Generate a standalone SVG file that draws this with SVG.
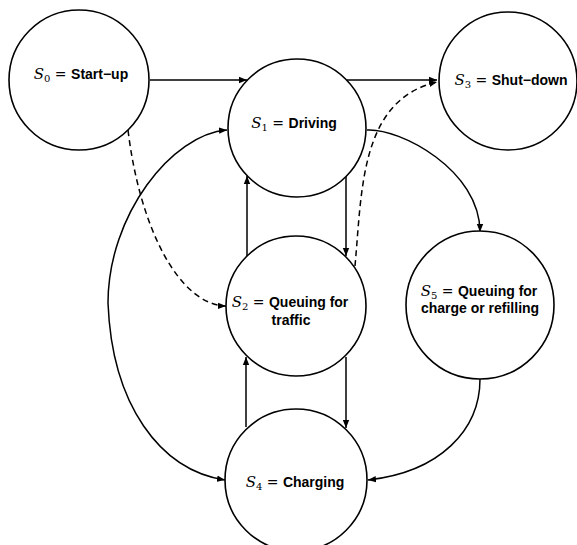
<svg xmlns="http://www.w3.org/2000/svg" width="577" height="545" viewBox="0 0 577 545">
<style>
.node{fill:#fff;stroke:#000;stroke-width:1.6}
.lbl{font-family:"Liberation Sans",Arial,sans-serif;font-weight:bold;font-size:14px;fill:#000;text-anchor:middle}
.m{font-family:"DejaVu Serif","Liberation Serif",serif;font-style:italic;font-weight:normal;font-size:15px}
.eq{font-family:"DejaVu Serif","Liberation Serif",serif;font-weight:normal}
.sub{font-family:"DejaVu Serif","Liberation Serif",serif;font-weight:normal;font-size:10px}
.c{fill:none;stroke:#000;stroke-width:1.5}
.d{stroke-dasharray:6 4}
</style>
<defs>
<marker id="a" viewBox="0 0 10 10" refX="10" refY="5" markerWidth="8" markerHeight="8" markerUnits="userSpaceOnUse" orient="auto-start-reverse">
<path d="M0,1 L10,5 L0,9 Z" fill="#000"/>
</marker>
</defs>
<g id="connectors">
<path class="c" d="M150,80 L247,80" marker-end="url(#a)"/>
<path class="c" d="M347,80 L437,80" marker-end="url(#a)"/>
<path class="c d" d="M355,266 C362,190 360,100 437,82" marker-end="url(#a)"/>
<path class="c d" d="M128,130 C140,230 180,305 226,306" marker-end="url(#a)"/>
<path class="c" d="M227,130 C172,134 108,215 108,303 C112,405 160,470 225,480" marker-start="url(#a)" marker-end="url(#a)"/>
<path class="c" d="M247,256 L247,176" marker-end="url(#a)"/>
<path class="c" d="M346,176 L346,256" marker-end="url(#a)"/>
<path class="c" d="M246,427 L246,357" marker-end="url(#a)"/>
<path class="c" d="M346,357 L346,428" marker-end="url(#a)"/>
<path class="c" d="M367,130 C400,128 480,170 480,232" marker-end="url(#a)"/>
<path class="c" d="M480,379 C480,430 440,472 368,480" marker-end="url(#a)"/>
</g>
<g id="s0">
<circle class="node" cx="79" cy="80" r="70"/>
<text class="lbl" x="81" y="79"><tspan class="m">S</tspan><tspan class="sub" dy="3">0</tspan><tspan class="eq" dy="-3"> = </tspan>Start−up</text>
</g>
<g id="s1">
<circle class="node" cx="297" cy="128" r="69"/>
<text class="lbl" x="294" y="128"><tspan class="m">S</tspan><tspan class="sub" dy="3">1</tspan><tspan class="eq" dy="-3"> = </tspan>Driving</text>
</g>
<g id="s3">
<circle class="node" cx="508" cy="81" r="69"/>
<text class="lbl" x="511" y="85"><tspan class="m">S</tspan><tspan class="sub" dy="3">3</tspan><tspan class="eq" dy="-3"> = </tspan>Shut−down</text>
</g>
<g id="s2">
<circle class="node" cx="296" cy="306" r="70"/>
<text class="lbl" x="290" y="307"><tspan class="m">S</tspan><tspan class="sub" dy="3">2</tspan><tspan class="eq" dy="-3"> = </tspan>Queuing for</text>
<text class="lbl" x="291" y="325">traffic</text>
</g>
<g id="s5">
<circle class="node" cx="480" cy="305" r="74"/>
<text class="lbl" x="479" y="296"><tspan class="m">S</tspan><tspan class="sub" dy="3">5</tspan><tspan class="eq" dy="-3"> = </tspan>Queuing for</text>
<text class="lbl" x="480" y="313">charge or refilling</text>
</g>
<g id="s4">
<circle class="node" cx="296" cy="480" r="71"/>
<text class="lbl" x="295" y="487"><tspan class="m">S</tspan><tspan class="sub" dy="3">4</tspan><tspan class="eq" dy="-3"> = </tspan>Charging</text>
</g>
</svg>
